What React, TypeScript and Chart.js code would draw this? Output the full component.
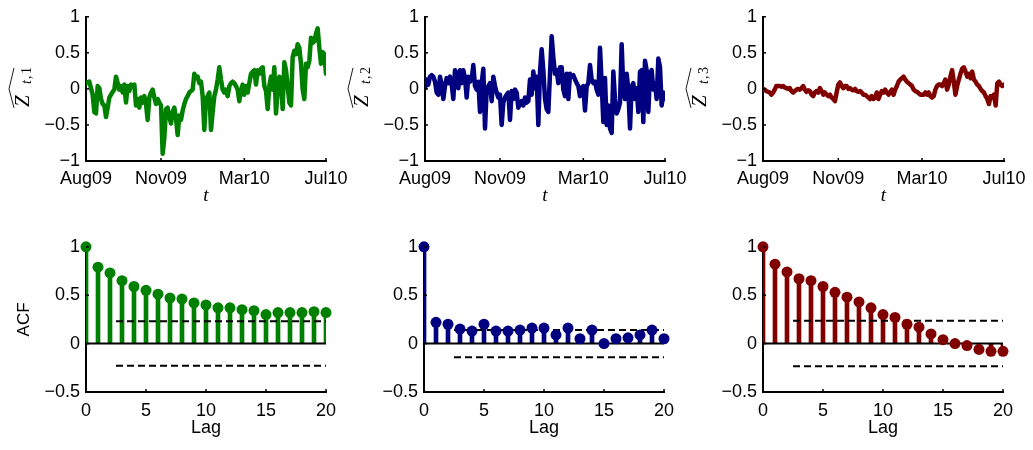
import React, { useEffect, useRef } from 'react';
import { Chart, registerables } from 'chart.js';

Chart.register(...registerables);

// ---------- data ----------
const TIME_TICK_LABELS = ['Aug09', 'Nov09', 'Mar10', 'Jul10'];
const TIME_TICK_INDEX = [0, 45, 95, 144];
const Z_TICKS = [-1, -0.5, 0, 0.5, 1];

const Z1 = [
  0.08, 0.09, 0.10, 0.01, -0.08, -0.32, -0.34, 0.04, 0.01, -0.14,
  -0.21, -0.23, -0.39, -0.26, -0.12, -0.08, -0.04, -0.01, 0.17, 0.08,
  -0.01, 0.04, -0.05, 0.06, -0.19, 0.04, -0.03, 0.06, 0.04, 0.06,
  -0.23, -0.14, -0.26, -0.12, -0.19, -0.10, -0.21, -0.43, -0.12, -0.05,
  -0.01, -0.12, -0.21, -0.14, -0.19, -0.23, -0.90, -0.68, -0.28, -0.26,
  -0.39, -0.48, -0.32, -0.26, -0.41, -0.64, -0.37, -0.43, -0.30, -0.21,
  -0.14, -0.10, -0.05, -0.03, -0.01, 0.21, 0.15, 0.17, 0.08, 0.10,
  -0.10, -0.57, -0.14, -0.10,
  -0.05, -0.57, -0.32, -0.10, -0.01, 0.13, 0.30, 0.13, -0.01, -0.05,
  -0.01, -0.10, 0.04, 0.08, 0.10, 0.08, 0.04, -0.01, -0.17, -0.03,
  0.06, -0.08, 0.04, -0.05, 0.08, 0.21, 0.24, 0.26, 0.06, 0.26,
  0.21, 0.28, 0.30, 0.04, -0.03, -0.28, 0.04, 0.17, -0.01, 0.30,
  -0.34, -0.01, 0.17, 0.08, -0.28, 0.37, 0.26, 0.04, -0.19, -0.23,
  0.44, 0.53, 0.48, 0.62, 0.57, 0.35, -0.01, -0.14, 0.35, 0.30,
  0.39, 0.71, 0.64, 0.66, 0.77, 0.84, 0.57, 0.35, 0.51, 0.48,
  0.21,
];

const Z2 = [
  0.01, 0.13, 0.06, 0.17, 0.19, 0.17, 0.10, -0.05, -0.08, 0.17,
  0.06, -0.14, 0.04, 0.15, 0.08, 0.17, 0.06, -0.14, 0.26, 0.21,
  0.01, 0.26, 0.08, 0.26, 0.15, -0.12, 0.17, 0.10, 0.13, 0.33,
  0.04, -0.01, 0.10, -0.32, 0.08, 0.28, -0.55, -0.01, 0.04, 0.08,
  -0.17, 0.17, 0.04, -0.05, -0.12, -0.08, -0.50, -0.19, -0.12, -0.08,
  -0.05, -0.43, -0.03, -0.14, -0.01, -0.05, -0.26, -0.21, -0.17, -0.23,
  -0.12, -0.19, -0.17, 0.13, -0.08, 0.24, 0.01, 0.17, -0.50, 0.24,
  0.55, 0.26, -0.14, -0.28,
  -0.32, 0.21, 0.73, 0.44, 0.21, 0.26, 0.08, 0.30, 0.30, -0.01,
  -0.10, 0.21, -0.14, 0.21, 0.17, 0.19, 0.13, 0.08, 0.04, -0.10,
  0.01, 0.04, -0.30, 0.04, 0.08, 0.33, 0.13, 0.08, 0.10, -0.01,
  -0.08, 0.57, 0.08, -0.46, 0.15, -0.50, -0.23, -0.55, -0.61, 0.24,
  -0.14, -0.34, -0.28, -0.19, 0.62, -0.01, -0.14, 0.21, -0.01, -0.55,
  0.04, 0.08, -0.14, 0.01, -0.32, 0.24, 0.26, -0.46, 0.39, 0.26,
  -0.32, 0.21, 0.26, -0.01, 0.08, -0.14, 0.42, 0.30, -0.23, -0.05,
  -0.14,
];

const Z3 = [
  0.00, -0.01, -0.03, -0.04, -0.05, -0.08, -0.05, -0.01, 0.04, 0.04,
  0.04, 0.03, 0.04, 0.02, 0.01, 0.00, 0.01, -0.03, -0.05, -0.03,
  -0.01, 0.00, -0.01, 0.01, 0.04, -0.01, -0.04, -0.02, -0.03, -0.08,
  -0.10, -0.05, -0.03, -0.05, 0.01, -0.03, -0.08, -0.05, -0.08, -0.10,
  -0.08, -0.12, -0.14, -0.17, -0.05, 0.06, 0.09, 0.04, 0.01, 0.04,
  0.04, 0.00, 0.01, -0.01, -0.02, 0.00, -0.03, -0.04, -0.03, -0.05,
  -0.08, -0.08, -0.10, -0.12, -0.14, -0.10, -0.14, -0.12, -0.05, -0.14,
  -0.08, -0.03, -0.05, -0.01, -0.05, -0.08, -0.04, -0.01, -0.08, -0.01,
  0.04, 0.10, 0.13, 0.15, 0.17, 0.13, 0.10, 0.08, 0.06, 0.04,
  -0.01, -0.03, -0.04, -0.06, -0.08, -0.08, -0.08, -0.05, -0.08, -0.05,
  -0.10, -0.12, -0.10, -0.01, 0.04, 0.06, 0.06, 0.04, 0.08, 0.13,
  -0.01, 0.06, 0.17, 0.26, 0.10, -0.08, 0.04, 0.13, 0.21, 0.28,
  0.30, 0.24, 0.17, 0.21, 0.15, 0.24, 0.13, 0.10, 0.06, 0.04,
  0.00, -0.03, -0.05, -0.10, -0.14, -0.21, -0.10, -0.12, -0.08, -0.23,
  0.08, 0.10, 0.06, 0.04, 0.06,
];

const LAGS = [0, 1, 2, 3, 4, 5, 6, 7, 8, 9, 10, 11, 12, 13, 14, 15, 16, 17, 18, 19, 20];
const LAG_TICKS = [0, 5, 10, 15, 20];
const ACF_TICKS = [-0.5, 0, 0.5, 1];

const ACF1 = [1.0, 0.79, 0.73, 0.65, 0.59, 0.55, 0.51, 0.47, 0.46, 0.42, 0.40, 0.37, 0.37, 0.35, 0.34, 0.30, 0.32, 0.32, 0.32, 0.33, 0.32];
const ACF2 = [1.0, 0.22, 0.20, 0.15, 0.13, 0.20, 0.13, 0.13, 0.14, 0.16, 0.16, 0.09, 0.16, 0.05, 0.14, 0.00, 0.05, 0.06, 0.09, 0.14, 0.05];
const ACF3 = [1.0, 0.82, 0.74, 0.67, 0.65, 0.59, 0.53, 0.48, 0.43, 0.37, 0.30, 0.27, 0.20, 0.17, 0.10, 0.04, 0.00, -0.02, -0.06, -0.08, -0.08];

const CONF_BOUNDS = [0.23, 0.14, 0.235];
const CONF_START_LAG = 2.5;

const SERIES_COLORS = ['#008000', '#000080', '#800000'];
const SERIES_NAMES = ['1', '2', '3'];

// ---------- helpers ----------
const fmt = (v: number) => (v < 0 ? '\u2212' : '') + String(Math.abs(v));
const SANS = '"Liberation Sans", Arial, sans-serif';
const SERIF = '"Liberation Serif", "Times New Roman", serif';

const inTicks = {
  id: 'inTicks',
  afterDraw(chart: any) {
    const { ctx, chartArea: a, scales } = chart;
    const x = scales.x;
    const y = scales.y;
    ctx.save();
    ctx.strokeStyle = '#000';
    ctx.lineWidth = 1.5;
    x.ticks.forEach((t: any) => {
      const px = x.getPixelForValue(t.value);
      ctx.beginPath();
      ctx.moveTo(px, a.bottom);
      ctx.lineTo(px, a.bottom - 3);
      ctx.stroke();
    });
    y.ticks.forEach((t: any) => {
      const py = y.getPixelForValue(t.value);
      ctx.beginPath();
      ctx.moveTo(a.left, py);
      ctx.lineTo(a.left + 3, py);
      ctx.stroke();
    });
    ctx.restore();
  },
};

const zhatPlugin = (name: string) => ({
  id: 'zhat',
  afterDraw(chart: any) {
    const { ctx, chartArea: a } = chart;
    const cx = a.left - 65;
    const cy = (a.top + a.bottom) / 2 - 2;
    ctx.save();
    ctx.translate(cx, cy);
    ctx.rotate(-Math.PI / 2);
    ctx.fillStyle = '#000';
    ctx.strokeStyle = '#000';
    ctx.textAlign = 'left';
    ctx.textBaseline = 'alphabetic';
    ctx.font = 'italic 21px ' + SERIF;
    ctx.fillText('Z', -20, 8);
    ctx.font = 'italic 14px ' + SERIF;
    ctx.fillText('t', 3, 10);
    ctx.font = '14px ' + SERIF;
    ctx.fillText(',', 8, 10);
    ctx.fillText(name, 13, 10);
    ctx.lineWidth = 0.9;
    ctx.beginPath();
    ctx.moveTo(-21, -7);
    ctx.lineTo(-2, -12);
    ctx.lineTo(19, -7);
    ctx.stroke();
    ctx.restore();
  },
});

function seriesConfig(values: number[], color: string, name: string, padRight: number) {
  return {
    type: 'line',
    data: {
      datasets: [
        {
          data: values.map((v, i) => ({ x: i, y: v })),
          borderColor: color,
          borderWidth: 4.5,
          pointRadius: 0,
          tension: 0,
          borderJoinStyle: 'round',
          borderCapStyle: 'round',
        },
      ],
    },
    options: {
      responsive: false,
      animation: false,
      devicePixelRatio: 1,
      events: [],
      layout: { padding: { top: 12, right: padRight, left: 0, bottom: 0 } },
      plugins: { legend: { display: false }, tooltip: { enabled: false } },
      scales: {
        x: {
          type: 'linear',
          min: 0,
          max: values.length - 1,
          grid: { display: false, drawTicks: false },
          border: { display: true, color: '#000', width: 2 },
          afterBuildTicks: (s: any) => {
            s.ticks = TIME_TICK_INDEX.map((v) => ({ value: v }));
          },
          afterFit: (s: any) => {
            s.height = 48;
          },
          ticks: {
            autoSkip: false,
            maxRotation: 0,
            padding: 7,
            color: '#000',
            font: { family: SANS, size: 18 },
            callback: (v: any) => TIME_TICK_LABELS[TIME_TICK_INDEX.indexOf(v)],
          },
          title: {
            display: true,
            text: 't',
            color: '#000',
            font: { family: SERIF, size: 19, style: 'italic' },
            padding: { top: 0, bottom: 2 },
          },
        },
        y: {
          type: 'linear',
          min: -1,
          max: 1,
          grid: { display: false, drawTicks: false },
          border: { display: true, color: '#000', width: 2 },
          afterBuildTicks: (s: any) => {
            s.ticks = Z_TICKS.map((v) => ({ value: v }));
          },
          afterFit: (s: any) => {
            s.width = 86;
          },
          ticks: {
            padding: 6,
            color: '#000',
            font: { family: SANS, size: 18 },
            callback: (v: any) => fmt(v),
          },
        },
      },
    },
    plugins: [inTicks, zhatPlugin(name)],
  };
}

function acfConfig(values: number[], color: string, conf: number, showTitle: boolean, padRight: number) {
  const lastLag = LAGS[LAGS.length - 1];
  const pts = LAGS.map((l, i) => ({ x: l, y: values[i] }));
  return {
    type: 'bar',
    data: {
      datasets: [
        {
          type: 'line',
          data: pts,
          showLine: false,
          pointRadius: 5.5,
          pointBackgroundColor: color,
          pointBorderColor: color,
          pointBorderWidth: 0,
          clip: false,
          order: 0,
        },
        {
          type: 'line',
          data: [{ x: CONF_START_LAG, y: conf }, { x: lastLag, y: conf }],
          borderColor: '#000',
          borderWidth: 2,
          borderDash: [7, 4],
          pointRadius: 0,
          order: 1,
        },
        {
          type: 'line',
          data: [{ x: CONF_START_LAG, y: -conf }, { x: lastLag, y: -conf }],
          borderColor: '#000',
          borderWidth: 2,
          borderDash: [7, 4],
          pointRadius: 0,
          order: 1,
        },
        {
          type: 'line',
          data: [{ x: LAGS[0], y: 0 }, { x: lastLag, y: 0 }],
          borderColor: '#000',
          borderWidth: 2,
          pointRadius: 0,
          order: 1,
        },
        {
          type: 'bar',
          data: pts,
          backgroundColor: color,
          borderWidth: 0,
          barThickness: 4,
          order: 2,
        },
      ],
    },
    options: {
      responsive: false,
      animation: false,
      devicePixelRatio: 1,
      events: [],
      layout: { padding: { top: 12, right: padRight, left: 0, bottom: 0 } },
      plugins: { legend: { display: false }, tooltip: { enabled: false } },
      scales: {
        x: {
          type: 'linear',
          min: LAGS[0],
          max: lastLag,
          offset: false,
          grid: { display: false, drawTicks: false, offset: false },
          border: { display: true, color: '#000', width: 2 },
          afterBuildTicks: (s: any) => {
            s.ticks = LAG_TICKS.map((v) => ({ value: v }));
          },
          afterFit: (s: any) => {
            s.height = 49;
          },
          ticks: {
            autoSkip: false,
            maxRotation: 0,
            padding: 8,
            color: '#000',
            font: { family: SANS, size: 18 },
            callback: (v: any) => String(v),
          },
          title: {
            display: true,
            text: 'Lag',
            color: '#000',
            font: { family: SANS, size: 18 },
            padding: { top: 0, bottom: 2 },
          },
        },
        y: {
          type: 'linear',
          min: -0.5,
          max: 1,
          grid: { display: false, drawTicks: false },
          border: { display: true, color: '#000', width: 2 },
          afterBuildTicks: (s: any) => {
            s.ticks = ACF_TICKS.map((v) => ({ value: v }));
          },
          afterFit: (s: any) => {
            s.width = 86;
          },
          ticks: {
            padding: 6,
            color: '#000',
            font: { family: SANS, size: 18 },
            callback: (v: any) => fmt(v),
          },
          title: {
            display: showTitle,
            text: 'ACF',
            color: '#000',
            font: { family: SANS, size: 17 },
            padding: { top: 14, bottom: 0 },
          },
        },
      },
    },
    plugins: [inTicks],
  };
}

function Panel({ left, top, width, height, make }: any) {
  const ref = useRef<HTMLCanvasElement | null>(null);
  useEffect(() => {
    const chart = new Chart(ref.current as any, make());
    return () => chart.destroy();
  }, []);
  return (
    <canvas
      ref={ref}
      width={width}
      height={height}
      style={{ position: 'absolute', left, top, width, height }}
    />
  );
}

const SERIES = [Z1, Z2, Z3];
const ACFS = [ACF1, ACF2, ACF3];

export default function App() {
  const topLefts = [0, 339, 677];
  const topPadR = [30, 30, 29];
  const botLefts = [0, 338, 677];
  const botPadR = [30, 30, 30];
  return (
    <div
      style={{
        position: 'absolute',
        left: 0,
        top: 0,
        width: 1033,
        height: 450,
        overflow: 'hidden',
        background: '#fff',
      }}
    >
      {SERIES.map((s, i) => (
        <Panel
          key={'t' + i}
          left={topLefts[i]}
          top={0}
          width={356}
          height={209}
          make={() => seriesConfig(s, SERIES_COLORS[i], SERIES_NAMES[i], topPadR[i])}
        />
      ))}
      {ACFS.map((a, i) => (
        <Panel
          key={'b' + i}
          left={botLefts[i]}
          top={230}
          width={356}
          height={211}
          make={() => acfConfig(a, SERIES_COLORS[i], CONF_BOUNDS[i], i === 0, botPadR[i])}
        />
      ))}
    </div>
  );
}
